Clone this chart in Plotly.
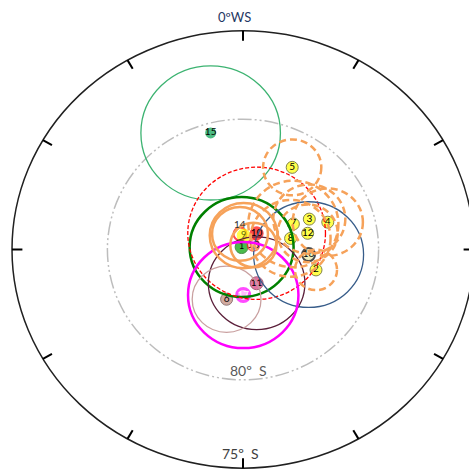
import math
import plotly.graph_objects as go

# ---- data (units: outer circle radius = 1, centre = pole) ----
site_labels = ["1", "2", "3", "4", "5", "6", "7", "8", "9", "10", "11", "12", "13", "14", "15", "16", "17"]
site_x = [-0.006, 0.316, 0.287, 0.367, 0.213, -0.071, 0.218, 0.206, 0.003, 0.059, 0.059, 0.280, 0.045, -0.013, -0.140, 0.284, 0.001]
site_y = [0.011, -0.092, 0.137, 0.123, 0.370, -0.224, 0.115, 0.050, 0.063, 0.073, -0.152, 0.073, 0.020, 0.070, 0.525, -0.023, -0.205]
a95 = [0.225, 0.091, 0.156, 0.152, 0.126, 0.149, 0.195, 0.173, 0.147, 0.298, 0.209, 0.130, 0.100, 0.121, 0.302, 0.238, 0.239]

marker_fill = ["#00a000", "#ffff00", "#ffff00", "#ffff00", "#ffff00", "#c08878", "#ffff00", "#ffff00", "#ffff00",
               "#ff0000", "#d63a7a", "#ffff00", "#ffb0d8", "#ffffff", "#00a050", "#e8e8a0", "#ffa0ff"]
marker_edge = ["#006000", "#505000", "#505000", "#505000", "#505000", "#604040", "#505000", "#505000", "#ffff00",
               "#ff0000", "#802040", "#505000", "#ff2020", "#ff0000", "#00a050", "#000000", "#ff00ff"]
marker_edge_w = [1, 1, 1, 1, 1, 1, 1, 1, 1, 1, 1, 1, 1.5, 2, 0, 2, 3]
marker_size = [13, 12, 12, 12, 12, 12, 12, 12, 13, 13, 13, 12, 12, 13, 11, 13, 13]

circle_color = ["#008000", "#f6a25a", "#f6a25a", "#f6a25a", "#f6a25a", "#c9a0a0", "#f6a25a", "#f6a25a", "#f6a25a",
                "#ff0000", "#5b1f3a", "#f6a25a", "#f6a25a", "#f6a25a", "#3cb371", "#385d8a", "#ff00ff"]
circle_width = [2.5, 2.5, 2.5, 2.5, 2.5, 1.3, 2.5, 2.5, 2.5, 1.3, 1.3, 2.5, 2.5, 2.5, 1.3, 1.3, 2.5]
circle_dash = ["solid", "7px,4px", "7px,4px", "7px,4px", "7px,4px", "solid", "7px,4px", "7px,4px", "solid",
               "4px,2px", "solid", "7px,4px", "solid", "solid", "solid", "solid", "solid"]

ref_circle_r = 0.587          # 80º S
outer_ry = 0.985              # outer circle (drawing slightly flattened)
tick_angles = [0, 30, 60, 90, 120, 150, 180, 210, 240, 270, 300, 330]

X_PX, Y_PX = 231.0, 222.0     # pixels per unit
CX, CY = 243.0, 249.5

fig = go.Figure()
shapes = []

# outer circle
shapes.append(dict(type="circle", xref="x", yref="y", x0=-1, x1=1, y0=-outer_ry, y1=outer_ry,
                   line=dict(color="#202020", width=1.5), layer="below"))
# ticks
for a in tick_angles:
    s, c = math.sin(math.radians(a)), math.cos(math.radians(a)) * outer_ry
    shapes.append(dict(type="line", xref="x", yref="y", x0=s, y0=c, x1=s * 0.955, y1=c * 0.955,
                       line=dict(color="#000000", width=2)))
# 80 S reference circle
shapes.append(dict(type="circle", xref="x", yref="y", x0=-ref_circle_r, x1=ref_circle_r,
                   y0=-ref_circle_r, y1=ref_circle_r,
                   line=dict(color="#bdbdbd", width=1.5, dash="14px,3px,2px,3px,2px,3px")))

# confidence circles
order = [14, 0, 9, 15, 10, 16, 5, 8, 13, 12, 4, 6, 7, 2, 3, 11, 1]
for i in order:
    r = a95[i]
    shapes.append(dict(type="circle", xref="x", yref="y",
                       x0=site_x[i] - r, x1=site_x[i] + r, y0=site_y[i] - r, y1=site_y[i] + r,
                       line=dict(color=circle_color[i], width=circle_width[i], dash=circle_dash[i])))

fig.update_layout(shapes=shapes)

LABEL_ABOVE = 13   # index of site "14", whose label sits just above its marker
text_col = ["#000000"] * len(site_labels)
text_col[16] = "#ffffff"
text_col[8] = "#606000"
text_size = [10] * len(site_labels)
text_size[0] = 9
text_size[8] = 9
draw_order = [13, 8, 0, 12, 9, 14, 1, 2, 3, 4, 6, 7, 11, 15, 10, 16, 5]
fig.add_trace(go.Scatter(
    x=[site_x[i] for i in draw_order], y=[site_y[i] for i in draw_order],
    mode="markers+text",
    text=["" if i == LABEL_ABOVE else site_labels[i] for i in draw_order],
    textposition="middle center",
    textfont=dict(family="Lato", size=[text_size[i] for i in draw_order],
                  color=[text_col[i] for i in draw_order]),
    marker=dict(size=[marker_size[i] for i in draw_order],
                color=[marker_fill[i] for i in draw_order],
                line=dict(color=[marker_edge[i] for i in draw_order],
                          width=[marker_edge_w[i] for i in draw_order])),
    hovertext=[site_labels[i] for i in draw_order], hoverinfo="text",
    showlegend=False, cliponaxis=False))

fig.add_annotation(x=site_x[LABEL_ABOVE], y=site_y[LABEL_ABOVE], text=site_labels[LABEL_ABOVE],
                   showarrow=False, yshift=10, font=dict(family="Lato", size=10, color="#303030"))

fig.add_annotation(x=-0.035, y=1.047, text="0ºWS", showarrow=False,
                   font=dict(family="Lato", size=13, color="#1f3864"))
fig.add_annotation(x=0.022, y=-0.543, text="80º  S", showarrow=False,
                   font=dict(family="Lato", size=14, color="#595959"))
fig.add_annotation(x=-0.013, y=-0.917, text="75º  S", showarrow=False,
                   font=dict(family="Lato", size=14, color="#404040"))

fig.update_layout(
    width=469, height=473, margin=dict(l=0, r=0, t=0, b=0),
    paper_bgcolor="white", plot_bgcolor="white",
    xaxis=dict(range=[-CX / X_PX, (469 - CX) / X_PX], visible=False, fixedrange=True),
    yaxis=dict(range=[(CY - 473) / Y_PX, CY / Y_PX], visible=False, fixedrange=True),
)
fig.write_html("out.html", config={"displayModeBar": False},
               post_script="document.body.style.margin='0';document.body.style.overflow='hidden';")
